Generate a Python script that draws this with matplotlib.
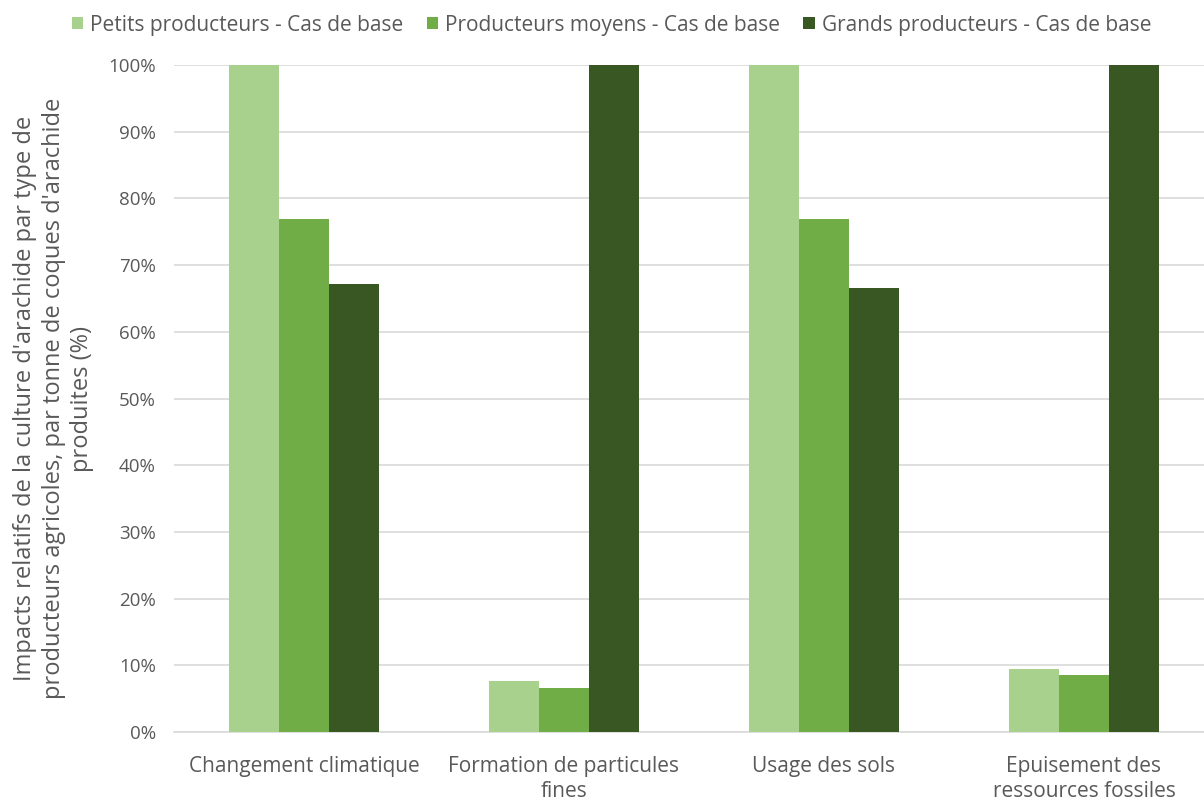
import matplotlib
matplotlib.use("Agg")
import matplotlib.pyplot as plt
import numpy as np
from matplotlib.ticker import FuncFormatter

categories = ["Changement climatique", "Formation de particules\nfines",
              "Usage des sols", "Epuisement des\nressources fossiles"]
series_names = ["Petits producteurs - Cas de base",
                "Producteurs moyens - Cas de base",
                "Grands producteurs - Cas de base"]
petits = [100.0, 7.65, 100.0, 9.45]
moyens = [76.9, 6.6, 76.9, 8.55]
grands = [67.2, 100.0, 66.6, 100.0]
colors = ["#A9D18E", "#70AD47", "#385723"]

plt.rcParams['font.family'] = ['Open Sans', 'DejaVu Sans']
txt = "#595959"

fig = plt.figure(figsize=(12.04, 8.02), dpi=100)
ax = fig.add_axes([174/1204, 1-732/802, (1204-174)/1204, (732-65)/802])

x = np.arange(len(categories))
w = 50/260
for i, (vals, name, c) in enumerate(zip([petits, moyens, grands], series_names, colors)):
    ax.bar(x + (i-1)*w, vals, width=w, color=c, label=name, zorder=3)

ax.set_xlim(-0.5, 3.5 - 10/260)
ax.set_ylim(0, 100)
ax.set_yticks(np.arange(0, 101, 10))
ax.yaxis.set_major_formatter(FuncFormatter(lambda v, p: f"{int(v)}%"))
ax.grid(axis='y', color='#D9D9D9', linewidth=1.2, zorder=0)
for s in ['top', 'right', 'left']:
    ax.spines[s].set_visible(False)
ax.spines['bottom'].set_color('#D9D9D9')
ax.spines['bottom'].set_linewidth(1.2)
ax.tick_params(axis='both', length=0, colors=txt)
ax.tick_params(axis='y', pad=13, labelsize=13.5)
ax.tick_params(axis='x', pad=17, labelsize=15)
ax.set_xticks(x)
ax.set_xticklabels(categories, linespacing=1.3)

ax.set_ylabel("Impacts relatifs de la culture d'arachide par type de\n"
              "producteurs agricoles, par tonne de coques d'arachide\n"
              "produites (%)", fontsize=17, color=txt, labelpad=10, linespacing=1.27)

leg = fig.legend(loc='center', bbox_to_anchor=(0.508, 1-25/802), ncol=3, frameon=False,
                 fontsize=15, handlelength=0.55, handleheight=0.55, handletextpad=0.35,
                 columnspacing=1.1)
for t in leg.get_texts():
    t.set_color(txt)

fig.savefig("out.png", dpi=100, facecolor='white')
